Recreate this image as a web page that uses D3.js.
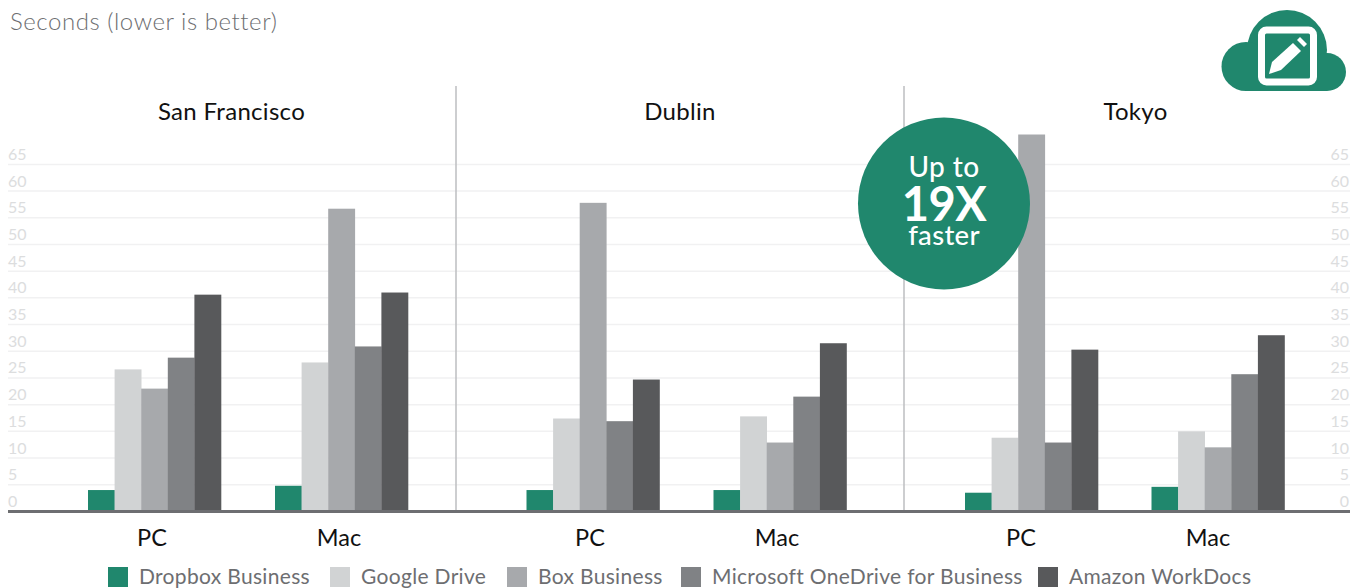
<!DOCTYPE html>
<html><head><meta charset="utf-8">
<script src="https://cdn.jsdelivr.net/npm/d3@7"></script>
<style>html,body{margin:0;background:#fff;overflow:hidden}svg{display:block}text{font-family:Lato,sans-serif}</style>
</head><body><svg id="c" width="1357" height="588"></svg>
<script>
const cities = ["San Francisco","Dublin","Tokyo"];
const platforms = ["PC","Mac"];
const seriesNames = ["Dropbox Business","Google Drive","Box Business","Microsoft OneDrive for Business","Amazon WorkDocs"];
const seriesColors = ["#20876d","#d1d3d4","#a7a9ac","#808285","#58595b"];
const yTicks = [0,5,10,15,20,25,30,35,40,45,50,55,60,65];
const dropbox  = [4.0,4.8, 4.0,4.0, 3.5,4.6];
const google   = [26.6,27.9, 17.4,17.8, 13.8,15.0];
const box      = [23.0,56.7, 57.8,12.9, 70.6,12.0];
const onedrive = [28.8,30.9, 16.9,21.5, 12.9,25.7];
const workdocs = [40.6,41.0, 24.7,31.5, 30.3,33.0];
const seriesValues = [dropbox,google,box,onedrive,workdocs];

const svg = d3.select("#c");
const y = d3.scaleLinear().domain([0,65]).range([511.4,164.4]);
const groupStart = [88,275,526.5,713.5,965,1151.5];
const labelCenter = [152,339,590,777,1021,1208];
const bandW = 133;
const cityCenter = [231.5,680,1135.5];
const x = d3.scaleBand().domain(d3.range(5)).range([0,bandW]);

svg.append("text").attr("x",10).attr("y",30).attr("font-size",24).attr("font-weight",300).attr("fill","#6d6e71")
  .style("letter-spacing","0.55px").text("Seconds (lower is better)");

// grid
svg.append("g").selectAll("line").data(yTicks.filter(d=>d>0)).join("line")
  .attr("x1",8).attr("x2",1350).attr("y1",d=>y(d)).attr("y2",d=>y(d))
  .attr("stroke","#f1f1f2").attr("stroke-width",1.5);
[[8,"start"],[1349,"end"]].forEach(([px,anchor])=>{
  svg.append("g").selectAll("text").data(yTicks).join("text")
    .attr("x",px).attr("y",d=>y(d)-4.5).attr("text-anchor",anchor)
    .attr("font-size",16).attr("fill","#dcddde").text(d=>d);
});
// separators
svg.append("g").selectAll("line").data([456,904]).join("line")
  .attr("x1",d=>d).attr("x2",d=>d).attr("y1",86).attr("y2",511)
  .attr("stroke","#bcbec0").attr("stroke-width",1.5);
// city titles
svg.append("g").selectAll("text").data(cities).join("text")
  .attr("x",(d,i)=>cityCenter[i]).attr("y",120).attr("text-anchor","middle")
  .attr("font-size",24).attr("fill","#111").style("letter-spacing","0.3px").text(d=>d);
// bars
seriesValues.forEach((vals,s)=>{
  svg.append("g").attr("fill",seriesColors[s]).selectAll("rect").data(vals).join("rect")
    .attr("x",(d,i)=>groupStart[i]+x(s)).attr("width",x.bandwidth()+0.3)
    .attr("y",d=>y(d)).attr("height",d=>y(0)-y(d));
});
// baseline
svg.append("line").attr("x1",8).attr("x2",1350).attr("y1",y(0)).attr("y2",y(0))
  .attr("stroke","#6d6e71").attr("stroke-width",3);
// platform labels
svg.append("g").selectAll("text").data(labelCenter).join("text")
  .attr("x",d=>d).attr("y",546).attr("text-anchor","middle")
  .attr("font-size",23.5).attr("fill","#111").text((d,i)=>platforms[i%2]);
// legend
const legendX = [108,330,507,681,1038];
const lg = svg.append("g").selectAll("g").data(seriesNames).join("g")
  .attr("transform",(d,i)=>`translate(${legendX[i]},567)`);
lg.append("rect").attr("width",20).attr("height",20).attr("fill",(d,i)=>seriesColors[i]);
lg.append("text").attr("x",31).attr("y",17).attr("font-size",21).attr("fill","#6d6e71")
  .style("letter-spacing","0.32px").text(d=>d);

// badge
svg.append("circle").attr("cx",944).attr("cy",203.5).attr("r",86).attr("fill","#20876d");
[["Up to",177,28,500,0.4],["19X",221,47,700,-0.5],["faster",245,27.5,500,0.3]].forEach(([t,py,fs,w,ls])=>{
  svg.append("text").attr("x",944).attr("y",py).attr("text-anchor","middle")
    .attr("font-size",fs).attr("font-weight",w).style("letter-spacing",ls+"px").attr("fill","#fff").text(t);
});
// cloud icon
const ic = svg.append("g").attr("fill","#20876d");
ic.append("circle").attr("cx",1287).attr("cy",50).attr("r",40);
ic.append("circle").attr("cx",1246).attr("cy",66.5).attr("r",24.5);
ic.append("circle").attr("cx",1327).attr("cy",72).attr("r",19);
ic.append("rect").attr("x",1246).attr("y",60).attr("width",81).attr("height",31);
ic.append("rect").attr("x",1261.5).attr("y",30).attr("width",52).attr("height",52).attr("rx",5)
  .attr("fill","#20876d").attr("stroke","#fff").attr("stroke-width",7);
svg.append("path").attr("fill","#fff").attr("d","M1269 74 L1272 62 L1293 43 L1301 51 L1281 70 Z");
svg.append("path").attr("fill","#fff").attr("d","M1297 40 L1300 37 L1307 44 L1304 47 Z");
</script></body></html>
